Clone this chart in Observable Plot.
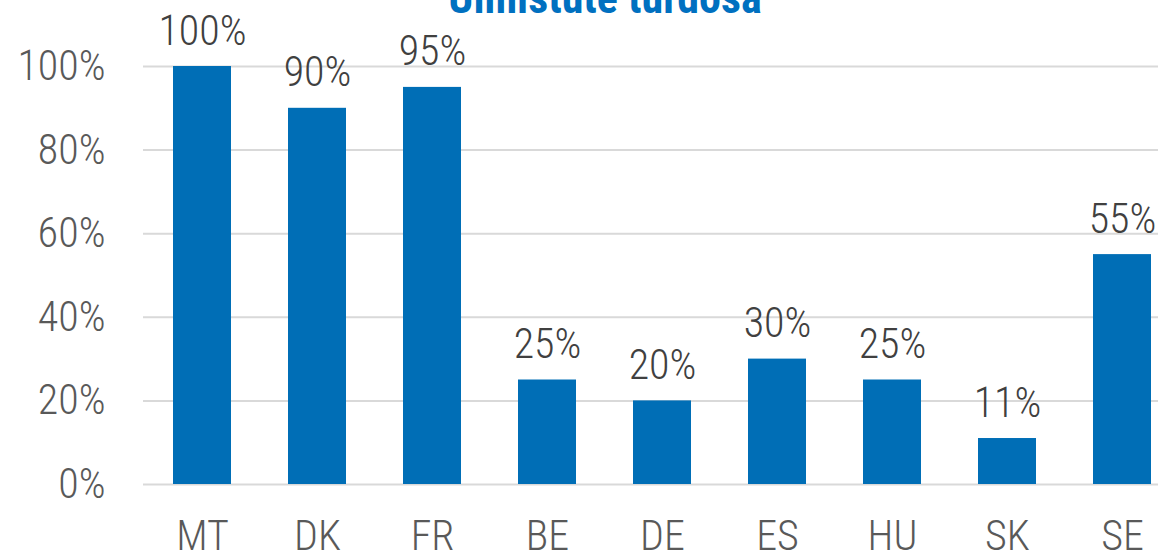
<!DOCTYPE html>
<html><head><meta charset="utf-8">
<script src="https://cdn.jsdelivr.net/npm/d3@7"></script>
<script src="https://cdn.jsdelivr.net/npm/@observablehq/plot@0.6"></script>
<style>
html,body{margin:0;padding:0;overflow:hidden;background:#fff;width:1158px;height:553px;}
#wrap{position:relative;width:1158px;height:553px;overflow:hidden;}
#title{position:absolute;left:0;width:1210px;text-align:center;top:-25px;font-family:Roboto,sans-serif;font-weight:bold;font-size:44px;font-stretch:75%;color:#0070C0;white-space:nowrap;line-height:46px;}
#chart{position:absolute;left:0;top:0;}
#chart svg{max-width:none;}
#chart text{font-stretch:75%;font-weight:350;}
</style></head>
<body><div id="wrap"><div id="chart"></div><div id="title">Ulmistute turdosa</div></div>
<script>
const countries = ["MT","DK","FR","BE","DE","ES","HU","SK","SE"];
const values = [100, 90, 95, 25, 20, 30, 25, 11, 55];
const yTicks = [0, 20, 40, 60, 80, 100];
const data = countries.map((c, i) => ({country: c, value: values[i]}));

const chart = Plot.plot({
  width: 1180, height: 553,
  marginLeft: 143, marginRight: 0, marginTop: 66, marginBottom: 69,
  style: {fontFamily: "Roboto, sans-serif", fontSize: "42px", color: "#595959", background: "white", maxWidth: "none"},
  x: {domain: countries, paddingInner: 0.5, paddingOuter: 0.25, label: null},
  y: {domain: [0, 100], label: null},
  marks: [
    Plot.gridY(yTicks, {stroke: "#D9D9D9", strokeOpacity: 1, strokeWidth: 2}),
    Plot.barY(data, {x: "country", y: "value", fill: "#006EB6"}),
    Plot.axisY(yTicks, {tickSize: 0, tickPadding: 38, tickFormat: d => d + "%", fontSize: 42, fill: "#595959"}),
    Plot.axisX({tickSize: 0, tickPadding: 36, fontSize: 42, fill: "#595959"}),
    Plot.text(data, {x: "country", y: "value", text: d => d.value + "%", textAnchor: "middle", lineAnchor: "bottom", dy: -22, fontSize: 42, fill: "#404040"})
  ]
});
document.getElementById("chart").appendChild(chart);
</script></body></html>
